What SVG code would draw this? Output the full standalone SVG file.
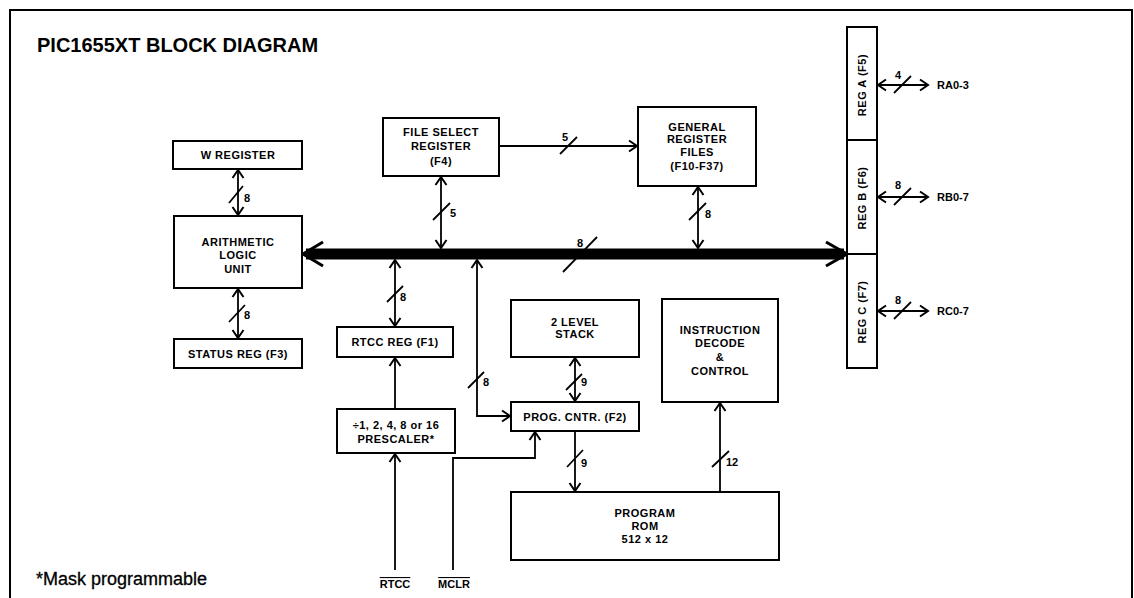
<svg xmlns="http://www.w3.org/2000/svg" width="1134" height="598" viewBox="0 0 1134 598">
<defs>
<marker id="ah" viewBox="-10 -7 12 14" refX="0" refY="0" markerWidth="12" markerHeight="14" markerUnits="userSpaceOnUse" orient="auto-start-reverse">
<path d="M-8,-5.5 L0,0 L-8,5.5" fill="none" stroke="#000" stroke-width="2"/>
</marker>
</defs>
<style>
.box{fill:#fff;stroke:#000;stroke-width:2}
.t{font-family:"Liberation Sans",Arial,sans-serif;font-size:11px;font-weight:bold;letter-spacing:0.5px;text-anchor:middle;fill:#000}
.n{font-family:"Liberation Sans",Arial,sans-serif;font-size:11px;font-weight:bold;fill:#000;text-anchor:middle}
.p{font-family:"Liberation Sans",Arial,sans-serif;font-size:11px;font-weight:bold;fill:#000}
.c{fill:none;stroke:#000;stroke-width:1.8}
.a{marker-end:url(#ah)}
.d{marker-start:url(#ah);marker-end:url(#ah)}
.s{stroke:#000;stroke-width:1.8}
</style>
<rect width="1134" height="598" fill="#fff"/>
<path d="M10,598 L10,10 L1132,10 L1132,598" fill="none" stroke="#000" stroke-width="2"/>
<text x="37" y="52" font-family="Liberation Sans,Arial,sans-serif" font-size="20" font-weight="bold">PIC1655XT BLOCK DIAGRAM</text>
<text x="36" y="585" font-family="Liberation Sans,Arial,sans-serif" font-size="18" stroke="#000" stroke-width="0.3">*Mask programmable</text>

<g id="connectors">
<g id="bus">
<line x1="306" y1="254" x2="844" y2="254" stroke="#000" stroke-width="11"/>
<polygon points="302,254 314,247.5 314,260.5" fill="#000"/>
<polygon points="848,254 836,247.5 836,260.5" fill="#000"/>
<polyline points="323,242 303,254 323,266" fill="none" stroke="#000" stroke-width="3"/>
<polyline points="826,242 847,254 826,266" fill="none" stroke="#000" stroke-width="3"/>
<line class="s" x1="563" y1="272" x2="597" y2="237"/>
<text class="n" x="580" y="247">8</text>
</g>
<line class="c d" x1="238" y1="170" x2="238" y2="215"/>
<line class="s" x1="229" y1="203" x2="243" y2="186"/>
<text class="p" x="244" y="202">8</text>
<line class="c d" x1="238" y1="289" x2="238" y2="338"/>
<line class="s" x1="229" y1="322" x2="245" y2="305"/>
<text class="p" x="244" y="319">8</text>
<line class="c a" x1="500" y1="146" x2="637" y2="146"/>
<line class="s" x1="560" y1="154" x2="577" y2="137"/>
<text class="n" x="565" y="141">5</text>
<line class="c d" x1="441" y1="177" x2="441" y2="248"/>
<line class="s" x1="433" y1="220" x2="450" y2="203"/>
<text class="p" x="450" y="217">5</text>
<line class="c d" x1="698" y1="187" x2="698" y2="248"/>
<line class="s" x1="689" y1="220" x2="706" y2="203"/>
<text class="p" x="705" y="218">8</text>
<line class="c d" x1="395" y1="260" x2="395" y2="326"/>
<line class="s" x1="387" y1="302" x2="403" y2="286"/>
<text class="p" x="400" y="301">8</text>
<line class="c a" x1="395" y1="408" x2="395" y2="358"/>
<line class="c a" x1="395" y1="570" x2="395" y2="454"/>
<polyline class="c d" points="477,260 477,416 510,416"/>
<line class="s" x1="468" y1="388" x2="484" y2="372"/>
<text class="p" x="483" y="386">8</text>
<polyline class="c a" points="453,570 453,458 535,458 535,432"/>
<line class="c d" x1="575" y1="358" x2="575" y2="401"/>
<line class="s" x1="566" y1="390" x2="582" y2="374"/>
<text class="p" x="581" y="386">9</text>
<line class="c a" x1="575" y1="432" x2="575" y2="491"/>
<line class="s" x1="567" y1="467" x2="583" y2="450"/>
<text class="p" x="581" y="467">9</text>
<line class="c a" x1="720" y1="492" x2="720" y2="403"/>
<line class="s" x1="712" y1="467" x2="729" y2="451"/>
<text class="p" x="726" y="466">12</text>
<line class="c d" x1="878" y1="85" x2="928" y2="85"/>
<line class="s" x1="894" y1="93" x2="911" y2="76"/>
<text class="n" x="898" y="79">4</text>
<line class="c d" x1="878" y1="197" x2="928" y2="197"/>
<line class="s" x1="894" y1="205" x2="911" y2="188"/>
<text class="n" x="898" y="189">8</text>
<line class="c d" x1="878" y1="311" x2="928" y2="311"/>
<line class="s" x1="894" y1="319" x2="911" y2="302"/>
<text class="n" x="898" y="304">8</text>
</g>

<g id="w-register">
<rect class="box" x="173" y="141" width="129" height="28"/>
<text class="t" x="238" y="159">W REGISTER</text>
</g>
<g id="alu">
<rect class="box" x="174" y="216" width="128" height="72"/>
<text class="t" x="238" y="246">ARITHMETIC</text>
<text class="t" x="238" y="259">LOGIC</text>
<text class="t" x="238" y="273">UNIT</text>
</g>
<g id="status-reg">
<rect class="box" x="174" y="339" width="128" height="29"/>
<text class="t" x="238" y="358">STATUS REG (F3)</text>
</g>
<g id="file-select-register">
<rect class="box" x="383" y="118" width="116" height="58"/>
<text class="t" x="441" y="136">FILE SELECT</text>
<text class="t" x="441" y="150">REGISTER</text>
<text class="t" x="441" y="165">(F4)</text>
</g>
<g id="general-register-files">
<rect class="box" x="638" y="107" width="118" height="79"/>
<text class="t" x="697" y="131">GENERAL</text>
<text class="t" x="697" y="143">REGISTER</text>
<text class="t" x="697" y="156">FILES</text>
<text class="t" x="697" y="170">(F10-F37)</text>
</g>
<g id="rtcc-reg">
<rect class="box" x="337" y="327" width="116" height="30"/>
<text class="t" x="395" y="346">RTCC REG (F1)</text>
</g>
<g id="prescaler">
<rect class="box" x="337" y="409" width="118" height="44"/>
<text class="t" x="396" y="429">÷1, 2, 4, 8 or 16</text>
<text class="t" x="396" y="443">PRESCALER*</text>
</g>
<g id="stack">
<rect class="box" x="511" y="300" width="128" height="57"/>
<text class="t" x="575" y="326">2 LEVEL</text>
<text class="t" x="575" y="338">STACK</text>
</g>
<g id="prog-cntr">
<rect class="box" x="511" y="402" width="128" height="29"/>
<text class="t" x="575" y="421">PROG. CNTR. (F2)</text>
</g>
<g id="instruction-decode">
<rect class="box" x="662" y="299" width="116" height="103"/>
<text class="t" x="720" y="334">INSTRUCTION</text>
<text class="t" x="720" y="347">DECODE</text>
<text class="t" x="720" y="361">&amp;</text>
<text class="t" x="720" y="375">CONTROL</text>
</g>
<g id="program-rom">
<rect class="box" x="511" y="492" width="268" height="68"/>
<text class="t" x="645" y="517">PROGRAM</text>
<text class="t" x="645" y="530">ROM</text>
<text class="t" x="645" y="543">512 x 12</text>
</g>
<g id="reg-a">
<rect class="box" x="847" y="27" width="30" height="113"/>
<text class="t" transform="translate(866,85) rotate(-90)">REG A (F5)</text>
</g>
<g id="reg-b">
<rect class="box" x="847" y="140" width="30" height="114"/>
<text class="t" transform="translate(866,198) rotate(-90)">REG B (F6)</text>
</g>
<g id="reg-c">
<rect class="box" x="847" y="254" width="30" height="114"/>
<text class="t" transform="translate(866,312) rotate(-90)">REG C (F7)</text>
</g>
<g id="ports">
<text class="p" x="937" y="89">RA0-3</text>
<text class="p" x="937" y="201">RB0-7</text>
<text class="p" x="937" y="315">RC0-7</text>
</g>
<g id="pins">
<text class="n" x="395" y="588" text-decoration="overline">RTCC</text>
<text class="n" x="454" y="588" text-decoration="overline">MCLR</text>
</g>
</svg>
